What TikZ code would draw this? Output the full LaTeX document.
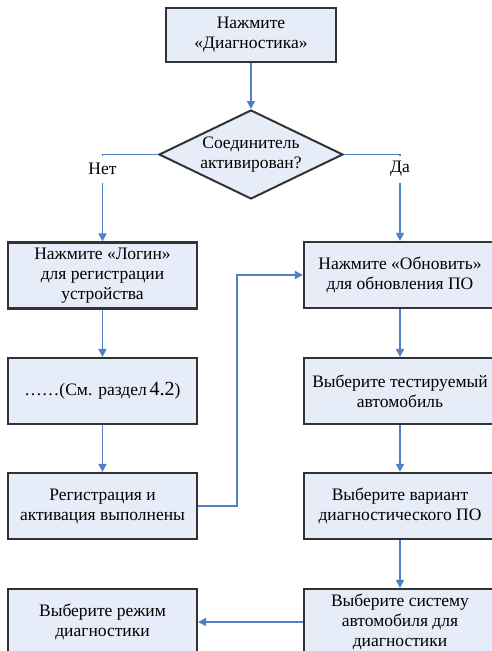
\documentclass[tikz,border=0pt]{standalone}
\usepackage{fontspec}
\setmainfont{Liberation Serif}
\usetikzlibrary{shapes.geometric,arrows.meta}
\definecolor{boxfill}{HTML}{E6EDF8}
\definecolor{boxline}{HTML}{333333}
\definecolor{flowblue}{HTML}{4F81C4}

\begin{document}
\begin{tikzpicture}[x=1pt, y=-1pt, font=\fontsize{17.5}{20}\selectfont,
  box/.style = {draw=boxline, fill=boxfill, line width=2.2pt, align=center, minimum width=189pt, minimum height=66pt, inner sep=1pt},
  test/.style = {draw=boxline, fill=boxfill, line width=2pt, diamond, aspect=2.07, inner sep=0pt, minimum width=184pt, minimum height=89pt, align=center},
  answer/.style = {inner sep=1pt, minimum height=28pt},
  flow/.style = {draw=flowblue, line width=1.8pt, -{Triangle[length=8pt,width=8pt]}},
  link/.style = {draw=flowblue, line width=1.8pt}]
\useasboundingbox (0,0) rectangle (492,651);
\clip (0,0) rectangle (492,651);

\node[box, minimum width=170pt, minimum height=54pt] (start) at (251,35) {Нажмите\\«Диагностика»};
\node[test] (dia) at (251,154.5) {Соединитель\\активирован?};
\node[answer] (no) at (102.5,169) {Нет};
\node[answer] (yes) at (400,169) {Да};

% left branch
\node[box] (login) at (102.5,275.5) {Нажмите «Логин»\\для регистрации\\устройства};
\node[box] (sect) at (102.5,391) {……(См. раздел\,{\fontsize{20}{20}\selectfont 4.2})};
\node[box] (done) at (102.5,506) {Регистрация и\\активация выполнены};
\node[box] (mode) at (102.5,622) {Выберите режим\\диагностики};

% right branch
\node[box, minimum width=192pt] (update) at (400,275) {Нажмите «Обновить»\\для обновления ПО};
\node[box, minimum width=192pt] (car) at (400,391) {Выберите тестируемый\\автомобиль};
\node[box, minimum width=192pt] (variant) at (400,506) {Выберите вариант\\диагностического ПО};
\node[box, minimum width=192pt] (system) at (400,622) {Выберите систему\\автомобиля для\\диагностики};
\coordinate (bend) at (237,506);

\draw[flow] (start) -- (dia);
\draw[link] (dia.west) -| (no.north);
\draw[flow] (no.south) -- (login.north);
\draw[link] (dia.east) -| (yes.north);
\draw[flow] (yes.south) -- (update.north);
\draw[flow] (login) -- (sect);
\draw[flow] (sect) -- (done);
\draw[flow] (done.east) -- (bend) |- (update.west);
\draw[flow] (update) -- (car);
\draw[flow] (car) -- (variant);
\draw[flow] (variant) -- (system);
\draw[flow] (system.west) -- (mode.east);
\end{tikzpicture}
\end{document}
